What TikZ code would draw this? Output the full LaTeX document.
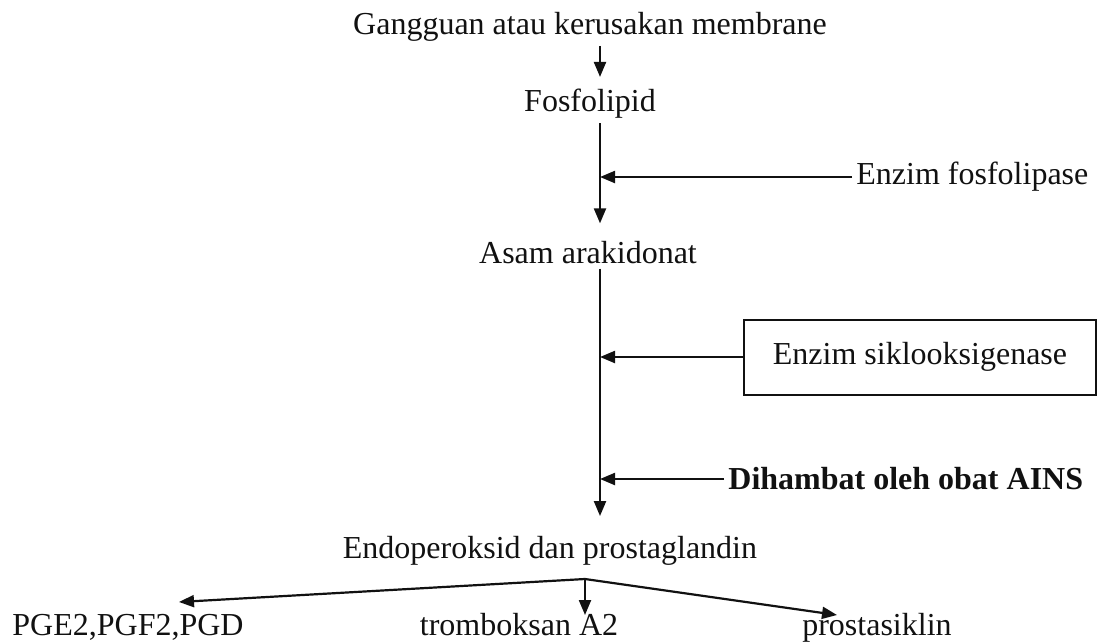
\documentclass[tikz,border=0pt]{standalone}
\usepackage{fontspec}
\setmainfont{Liberation Serif}
\usepackage{tikz}
\usetikzlibrary{
  arrows.meta,
  positioning,
  calc
}
\definecolor{pwInk}{HTML}{111111}
\tikzset{
  pwnode/.style={
    font=\fontsize{16}{19}\selectfont, inner sep=2pt, text=pwInk
  },
  pwbold/.style={pwnode, font=\fontsize{16}{19}\selectfont\bfseries},
  pwbox/.style={pwnode, draw=pwInk, line width=1pt, minimum width=176pt, minimum height=37.5pt},
  pwleaf/.style={pwnode, anchor=base},
  flow/.style={-{Triangle[length=7.5pt,width=6pt]}, line width=1.1pt, pwInk}
}

\begin{document}
\begin{tikzpicture}[x=0.5pt,y=-0.5pt]
  \useasboundingbox (0,0) rectangle (1098,643);
  \coordinate (spine) at (600,0);
  \node[pwnode] (top) at (590,27) {Gangguan atau kerusakan membrane};
  \node[pwnode] (fos) at (590,104) {Fosfolipid};
  \node[pwnode, anchor=west] (efos) at (852,177) {Enzim fosfolipase};
  \node[pwnode] (asam) at (588,253) {Asam arakidonat};
  \node[pwbox] (ecox) at (920,357) {Enzim siklooksigenase};
  \node[pwbold, anchor=west] (ains) at (724,479) {Dihambat oleh obat AINS};
  \node[pwnode] (endo) at (550,551) {Endoperoksid dan prostaglandin};
  \node[pwleaf] (pge) at (128,635) {PGE2,PGF2,PGD};
  \node[pwleaf] (trom) at (519,635) {tromboksan A2};
  \node[pwleaf] (pros) at (877,635) {prostasiklin};
  % split below endoperoksid
  \coordinate (split) at (585,579);
  \coordinate (pgetip) at (179,602);
  \coordinate (tromtip) at (585,615);
  \coordinate (prostip) at (837,615);
  \draw[flow, shorten >=4pt] (top.south -| spine) -- (fos.north -| spine);
  \draw[flow, shorten >=7pt] (fos.south -| spine) -- (asam.north -| spine);
  \draw[flow] (efos.west) -- (efos.west -| spine);
  \draw[flow, shorten >=8pt] (asam.south -| spine) -- (endo.north -| spine);
  \draw[flow] (ecox.west) -- (ecox.west -| spine);
  \draw[flow] (ains.west) -- (ains.west -| spine);
  \foreach \t in {pgetip,tromtip,prostip}{\draw[flow] (split) -- (\t);}
\end{tikzpicture}
\end{document}
